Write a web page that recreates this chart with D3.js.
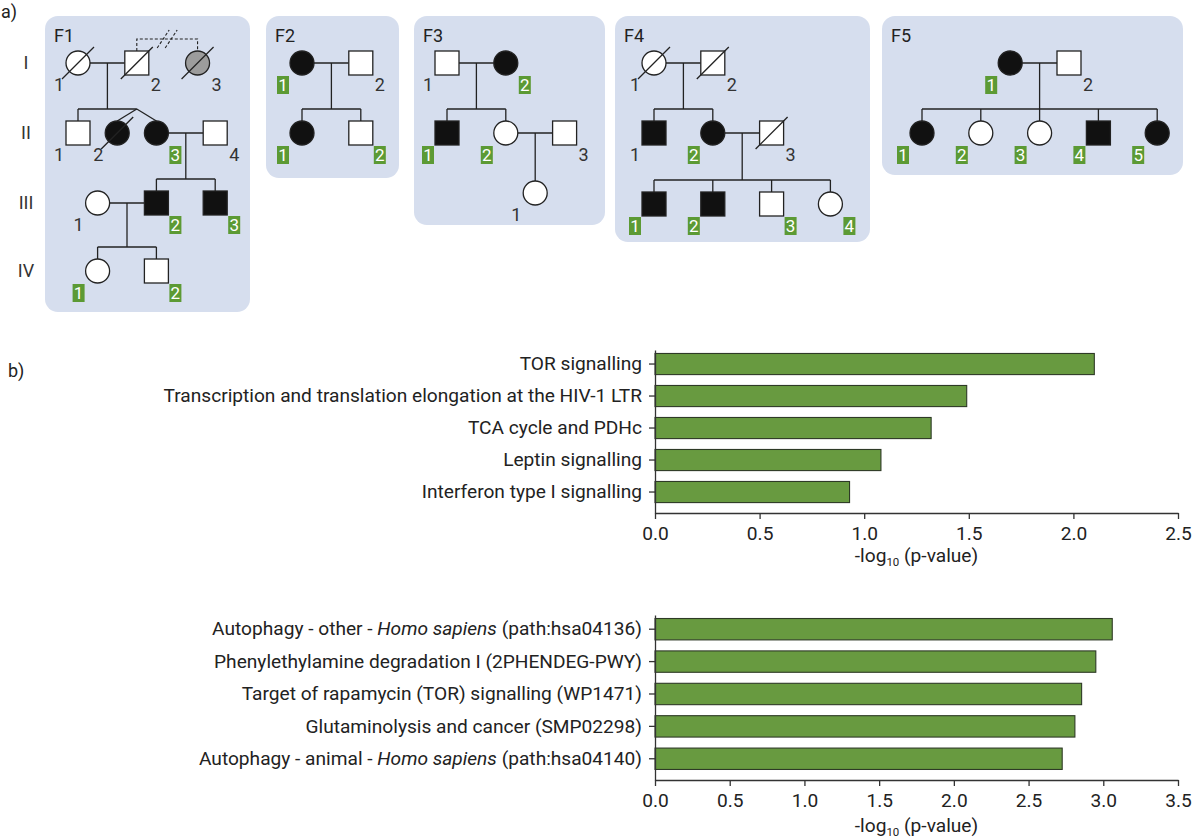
<!DOCTYPE html>
<html><head><meta charset="utf-8">
<script src="https://cdn.jsdelivr.net/npm/d3@7"></script>
<style>
body{margin:0;background:#fff;}
svg{display:block;font-family:Roboto,"DejaVu Sans",sans-serif;}
text{white-space:pre;}
</style></head><body>
<svg id="fig" width="1200" height="840"></svg>
<script>
// ================= DATA =================
const generations = ["I","II","III","IV"];
const familyNames = ["F1","F2","F3","F4","F5"];

// [family, id, sex, status (a=affected,u=unaffected,q=uncertain), deceased, number, genotyped]
const individuals = [
 ["F1","I-1","f","u",1,"1",0],["F1","I-2","m","u",1,"2",0],["F1","I-3","f","q",1,"3",0],
 ["F1","II-1","m","u",0,"1",0],["F1","II-2","f","a",1,"2",0],["F1","II-3","f","a",0,"3",1],["F1","II-4","m","u",0,"4",0],
 ["F1","III-1","f","u",0,"1",0],["F1","III-2","m","a",0,"2",1],["F1","III-3","m","a",0,"3",1],
 ["F1","IV-1","f","u",0,"1",1],["F1","IV-2","m","u",0,"2",1],
 ["F2","I-1","f","a",0,"1",1],["F2","I-2","m","u",0,"2",0],
 ["F2","II-1","f","a",0,"1",1],["F2","II-2","m","u",0,"2",1],
 ["F3","I-1","m","u",0,"1",0],["F3","I-2","f","a",0,"2",1],
 ["F3","II-1","m","a",0,"1",1],["F3","II-2","f","u",0,"2",1],["F3","II-3","m","u",0,"3",0],
 ["F3","III-1","f","u",0,"1",0],
 ["F4","I-1","f","u",1,"1",0],["F4","I-2","m","u",1,"2",0],
 ["F4","II-1","m","a",0,"1",0],["F4","II-2","f","a",0,"2",1],["F4","II-3","m","u",1,"3",0],
 ["F4","III-1","m","a",0,"1",1],["F4","III-2","m","a",0,"2",1],["F4","III-3","m","u",0,"3",1],["F4","III-4","f","u",0,"4",1],
 ["F5","I-1","f","a",0,"1",1],["F5","I-2","m","u",0,"2",0],
 ["F5","II-1","f","a",0,"1",1],["F5","II-2","f","u",0,"2",1],["F5","II-3","f","u",0,"3",1],["F5","II-4","m","a",0,"4",1],["F5","II-5","f","a",0,"5",1]
];
// [family, partnerA, partnerB, children, twins]
const unions = [
 ["F1","I-1","I-2",["II-1","II-2","II-3"],["II-2","II-3"]],
 ["F1","II-3","II-4",["III-2","III-3"],[]],
 ["F1","III-1","III-2",["IV-1","IV-2"],[]],
 ["F2","I-1","I-2",["II-1","II-2"],[]],
 ["F3","I-1","I-2",["II-1","II-2"],[]],
 ["F3","II-2","II-3",["III-1"],[]],
 ["F4","I-1","I-2",["II-1","II-2"],[]],
 ["F4","II-2","II-3",["III-1","III-2","III-3","III-4"],[]],
 ["F5","I-1","I-2",["II-1","II-2","II-3","II-4","II-5"],[]]
];
const separations = [["F1","I-2","I-3"]];

const pathwaysTop = ["TOR signalling","Transcription and translation elongation at the HIV-1 LTR","TCA cycle and PDHc","Leptin signalling","Interferon type I signalling"];
const valuesTop = [2.10, 1.49, 1.32, 1.08, 0.93];
const ticksTop = [0, 0.5, 1.0, 1.5, 2.0, 2.5];

const pathwaysBottom = ["Autophagy - other - Homo sapiens (path:hsa04136)","Phenylethylamine degradation I (2PHENDEG-PWY)","Target of rapamycin (TOR) signalling (WP1471)","Glutaminolysis and cancer (SMP02298)","Autophagy - animal - Homo sapiens (path:hsa04140)"];
const valuesBottom = [3.06, 2.95, 2.855, 2.81, 2.725];
const ticksBottom = [0, 0.5, 1.0, 1.5, 2.0, 2.5, 3.0, 3.5];

// ================= LAYOUT =================
const famLayout = {
 F1:{box:[45,16,250,312], x0:78,  genY:[63,133,203,271]},
 F2:{box:[266,16,399,178],x0:302, genY:[63,133]},
 F3:{box:[414,16,605,225],x0:447, genY:[63,133,193]},
 F4:{box:[615,16,870,242],x0:654, genY:[63,133,204]},
 F5:{box:[882,16,1183,175],x0:922, genY:[63,133]}
};
// grid column and label side for each member
const memberLayout = {
 "F1:I-1":[0,"L"],"F1:I-2":[3,"R"],"F1:I-3":[6.1,"R"],"F1:II-1":[0,"L"],"F1:II-2":[2,"L"],"F1:II-3":[4,"R"],"F1:II-4":[7,"R"],
 "F1:III-1":[1,"L"],"F1:III-2":[4,"R"],"F1:III-3":[7,"R"],"F1:IV-1":[1,"L"],"F1:IV-2":[4,"R"],
 "F2:I-1":[0,"L"],"F2:I-2":[3,"R"],"F2:II-1":[0,"L"],"F2:II-2":[3,"R"],
 "F3:I-1":[0,"L"],"F3:I-2":[3,"R"],"F3:II-1":[0,"L"],"F3:II-2":[3,"L"],"F3:II-3":[6,"R"],"F3:III-1":[4.5,"L"],
 "F4:I-1":[0,"L"],"F4:I-2":[3,"R"],"F4:II-1":[0,"L"],"F4:II-2":[3,"L"],"F4:II-3":[6,"R"],
 "F4:III-1":[0,"L"],"F4:III-2":[3,"L"],"F4:III-3":[6,"R"],"F4:III-4":[9,"R"],
 "F5:I-1":[4.5,"L"],"F5:I-2":[7.5,"R"],"F5:II-1":[0,"L"],"F5:II-2":[3,"L"],"F5:II-3":[6,"L"],"F5:II-4":[9,"L"],"F5:II-5":[12,"L"]
};
const UNIT = 19.6, HALF = 12;
const INK = "#222", PANEL = "#d6deee", GREEN_LBL = "#5c9a34", GREEN_BAR = "#689a40";

const svg = d3.select("#fig");

// panel labels
svg.append("text").attr("x",1).attr("y",18).attr("font-size",18).attr("fill","#222").text("a)");
svg.append("text").attr("x",8).attr("y",377).attr("font-size",18).attr("fill","#222").text("b)");

// generation labels
const genLabelY = d3.scaleOrdinal().domain(generations).range(famLayout.F1.genY);
svg.selectAll("text.gen").data(generations).join("text")
 .attr("class","gen").attr("x",26).attr("y",d=>genLabelY(d)).attr("dy","0.36em")
 .attr("text-anchor","middle").attr("font-size",18).attr("fill","#333").text(d=>d);

// ---------- pedigrees ----------
const people = individuals.map(r=>({fam:r[0],id:r[1],sex:r[2],status:r[3],dead:!!r[4],num:r[5],geno:!!r[6],
  gen:generations.indexOf(r[1].split("-")[0])}));
const byKey = {};
familyNames.forEach(f=>{
  const L = famLayout[f];
  L.x = d3.scaleLinear().domain([0,1]).range([L.x0, L.x0+UNIT]);
});
people.forEach(p=>{
  const L = famLayout[p.fam]; const m = memberLayout[p.fam+":"+p.id];
  p.cx = L.x(m[0]); p.cy = L.genY[p.gen]; p.side = m[1];
  byKey[p.fam+":"+p.id] = p;
});

// panels
familyNames.forEach(f=>{
  const b = famLayout[f].box;
  svg.append("rect").attr("x",b[0]).attr("y",b[1]).attr("width",b[2]-b[0]).attr("height",b[3]-b[1])
    .attr("rx",13).attr("fill",PANEL);
  svg.append("text").attr("x",b[0]+9).attr("y",b[1]+26).attr("font-size",18).attr("fill","#222").text(f);
});

const lines = svg.append("g").attr("stroke",INK).attr("stroke-width",1.3).attr("fill","none");
unions.forEach(u=>{
  const A = byKey[u[0]+":"+u[1]], B = byKey[u[0]+":"+u[2]];
  const y = A.cy;
  const lx = Math.min(A.cx,B.cx), rx = Math.max(A.cx,B.cx);
  lines.append("line").attr("x1",lx+HALF).attr("x2",rx-HALF).attr("y1",y).attr("y2",y);
  const dx = (A.cx+B.cx)/2;
  const kids = u[3].map(k=>byKey[u[0]+":"+k]);
  const sibY = kids[0].cy - 2*HALF;
  lines.append("line").attr("x1",dx).attr("x2",dx).attr("y1",y).attr("y2",sibY);
  const twins = u[4].map(k=>byKey[u[0]+":"+k]);
  const xs = [dx];
  kids.filter(k=>!twins.includes(k)).forEach(k=>{
    xs.push(k.cx);
    lines.append("line").attr("x1",k.cx).attr("x2",k.cx).attr("y1",sibY).attr("y2",k.cy-HALF);
  });
  if(twins.length){
    const ax = d3.mean(twins,t=>t.cx); xs.push(ax);
    twins.forEach(t=>lines.append("line").attr("x1",ax).attr("y1",sibY).attr("x2",t.cx).attr("y2",t.cy-HALF));
  }
  lines.append("line").attr("x1",d3.min(xs)).attr("x2",d3.max(xs)).attr("y1",sibY).attr("y2",sibY);
});
separations.forEach(s=>{
  const A = byKey[s[0]+":"+s[1]], B = byKey[s[0]+":"+s[2]];
  const top = A.cy - 2*HALF;
  lines.append("path").attr("stroke-dasharray","3,2").attr("stroke-width",1.1)
    .attr("d",`M${A.cx},${A.cy-HALF}V${top}H${B.cx}V${B.cy-HALF}`);
  const mx = (A.cx+B.cx)/2;
  [-4,4].forEach(o=>{
    lines.append("line").attr("stroke-dasharray","3,2").attr("stroke-width",1.1)
      .attr("x1",mx+o-6).attr("y1",top+9).attr("x2",mx+o+6).attr("y2",top-9);
  });
});

const fillOf = p => p.status==="a" ? "#111" : (p.status==="q" ? "#9c9c9c" : "#fff");
const sym = svg.append("g").attr("stroke",INK).attr("stroke-width",1.3);
people.forEach(p=>{
  if(p.sex==="m") sym.append("rect").attr("x",p.cx-HALF).attr("y",p.cy-HALF).attr("width",2*HALF).attr("height",2*HALF).attr("fill",fillOf(p));
  else sym.append("circle").attr("cx",p.cx).attr("cy",p.cy).attr("r",HALF).attr("fill",fillOf(p));
  if(p.dead) sym.append("line").attr("x1",p.cx-16).attr("y1",p.cy+16).attr("x2",p.cx+16).attr("y2",p.cy-16);
});
const lbl = svg.append("g");
people.forEach(p=>{
  const lx = p.cx + (p.side==="L" ? -19 : 19), ly = p.cy + 22;
  if(p.geno){
    lbl.append("rect").attr("x",lx-6).attr("y",ly-9).attr("width",12).attr("height",18).attr("fill",GREEN_LBL);
    lbl.append("text").attr("x",lx).attr("y",ly).attr("dy","0.36em").attr("text-anchor","middle")
      .attr("font-size",17).attr("fill","#fff").text(p.num);
  } else {
    lbl.append("text").attr("x",lx).attr("y",ly).attr("dy","0.36em").attr("text-anchor","middle")
      .attr("font-size",18).attr("fill","#333").text(p.num);
  }
});

// ---------- bar charts ----------
const probe = svg.append("text").attr("font-size",18).text(pathwaysTop[1]);
const pw = probe.node().getComputedTextLength(); probe.remove();
const FS = Math.max(14, Math.min(20, 18*479/pw));

function setLabel(sel, d){
  sel.text(null);
  const parts = d.split("Homo sapiens");
  if(parts.length>1){
    sel.append("tspan").text(parts[0]);
    sel.append("tspan").attr("font-style","italic").text("Homo sapiens");
    sel.append("tspan").text(parts[1]);
  } else sel.text(d);
}

function barChart(names, values, ticks, top, axisY, labelBaseline){
  const g = svg.append("g");
  const x = d3.scaleLinear().domain([0, d3.max(ticks)]).range([655,1178]);
  const y = d3.scaleBand().domain(names).range([top, axisY]).paddingInner(0.34).paddingOuter(0.217).align(0.25);
  g.selectAll("rect.bar").data(names).join("rect").attr("class","bar")
    .attr("x",x(0)).attr("y",d=>y(d)).attr("width",(d,i)=>x(values[i])-x(0)).attr("height",y.bandwidth())
    .attr("fill",GREEN_BAR).attr("stroke","#2e3a26").attr("stroke-width",1.1);
  const gx = g.append("g").attr("transform",`translate(0,${axisY})`)
    .call(d3.axisBottom(x).tickValues(ticks).tickFormat(d3.format(".1f")).tickSize(6).tickSizeOuter(0).tickPadding(7));
  const gy = g.append("g").attr("transform",`translate(${x(0)},0)`)
    .call(d3.axisLeft(y).tickSize(6).tickSizeOuter(0).tickPadding(7));
  [gx,gy].forEach(a=>{
    a.attr("font-family",null).attr("font-size",FS);
    a.selectAll("path,line").attr("stroke","#333").attr("stroke-width",1.3);
    a.selectAll("text").attr("fill","#222");
  });
  gy.selectAll(".tick text").each(function(d){ setLabel(d3.select(this), d); });
  const t = g.append("text").attr("x",(x.range()[0]+x.range()[1])/2).attr("y",labelBaseline)
    .attr("text-anchor","middle").attr("font-size",FS).attr("fill","#222");
  t.append("tspan").text("-log");
  t.append("tspan").attr("font-size",FS*0.6).attr("dy",4).text("10");
  t.append("tspan").attr("dy",-4).text(" (p-value)");
}
barChart(pathwaysTop, valuesTop, ticksTop, 350, 513, 562);
barChart(pathwaysBottom, valuesBottom, ticksBottom, 615, 780, 832);
</script>
</body></html>
